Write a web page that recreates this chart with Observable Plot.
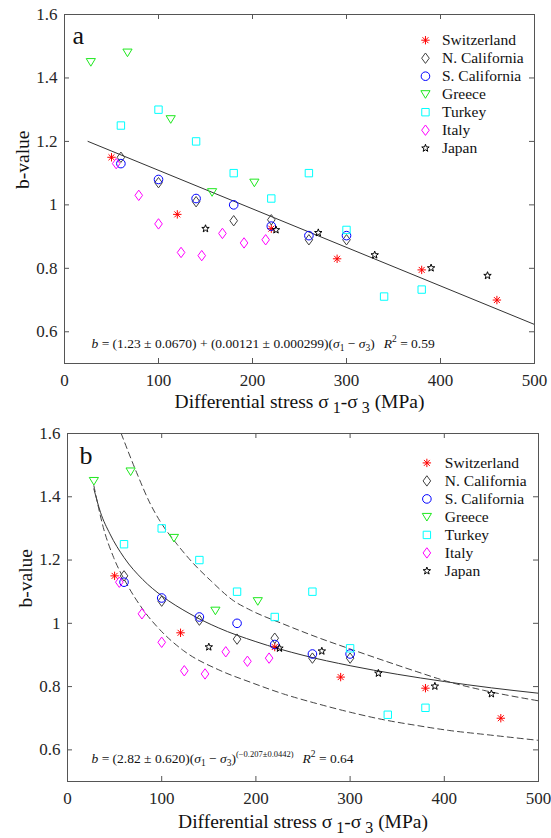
<!DOCTYPE html>
<html><head><meta charset="utf-8">
<script src="https://cdn.jsdelivr.net/npm/d3@7"></script>
<script src="https://cdn.jsdelivr.net/npm/@observablehq/plot@0.6"></script>
<style>
html,body{margin:0;padding:0;background:#fff;}
#chart svg{display:block;}
</style></head><body><div id="chart"></div>
<script>
// ---------- data ----------
const seriesNames = ["Switzerland", "N. California", "S. California", "Greece", "Turkey", "Italy", "Japan"];
const switzerlandX = [50, 120, 220, 290, 380, 460];
const switzerlandB = [1.15, 0.97, 0.925, 0.83, 0.795, 0.70];
const nCalX = [60, 100, 140, 180, 220, 260, 300];
const nCalB = [1.15, 1.07, 1.01, 0.95, 0.953, 0.89, 0.89];
const sCalX = [60, 100, 140, 180, 220, 260, 300];
const sCalB = [1.13, 1.08, 1.02, 1.00, 0.933, 0.903, 0.903];
const greeceX = [28, 67, 113, 157, 202];
const greeceB = [1.45, 1.48, 1.27, 1.04, 1.07];
const turkeyX = [60, 100, 140, 180, 220, 260, 300, 340, 380];
const turkeyB = [1.25, 1.30, 1.20, 1.10, 1.02, 1.10, 0.921, 0.711, 0.733];
const italyX = [55, 79, 100, 124, 146, 168, 191, 214];
const italyB = [1.13, 1.03, 0.94, 0.85, 0.84, 0.91, 0.88, 0.89];
const japanX = [150, 225, 270, 330, 390, 450];
const japanB = [0.925, 0.921, 0.912, 0.842, 0.801, 0.777];

const xTicks = [0, 100, 200, 300, 400, 500];
const yTicks = [0.6, 0.8, 1, 1.2, 1.4, 1.6];

// panel a: linear fit line
const linFitX = [25, 500];
const linFitB = [1.20, 0.623];
// panel b: power-law fit and dashed bounds
const powFitX = [28, 35, 45, 60, 80, 100, 130, 160, 200, 250, 300, 350, 400, 450, 500];
const powFitB = [1.425, 1.351, 1.283, 1.208, 1.138, 1.087, 1.030, 0.986, 0.942, 0.899, 0.866, 0.839, 0.816, 0.796, 0.779];
const upperX = [57, 74, 88, 98, 116, 134, 152, 176, 194, 229, 265, 300, 336, 371, 406, 442, 500];
const upperB = [1.60, 1.472, 1.377, 1.324, 1.251, 1.188, 1.135, 1.072, 1.042, 0.998, 0.956, 0.919, 0.882, 0.847, 0.814, 0.788, 0.755];
const lowerX = [28, 38, 49, 63, 81, 98, 123, 162, 194, 229, 265, 300, 336, 371, 406, 442, 500];
const lowerB = [1.435, 1.303, 1.208, 1.124, 1.040, 0.980, 0.914, 0.851, 0.814, 0.777, 0.746, 0.719, 0.695, 0.677, 0.661, 0.649, 0.630];

// ---------- marker symbols (MATLAB-like) ----------
const symAsterisk = {draw(c) { const a = 4.2, d = a * Math.SQRT1_2;
  c.moveTo(-a, 0); c.lineTo(a, 0); c.moveTo(0, -a); c.lineTo(0, a);
  c.moveTo(-d, -d); c.lineTo(d, d); c.moveTo(-d, d); c.lineTo(d, -d); }};
const symDiamond = {draw(c) { c.moveTo(0, -5.2); c.lineTo(3.8, 0); c.lineTo(0, 5.2); c.lineTo(-3.8, 0); c.closePath(); }};
const symCircle = {draw(c) { c.moveTo(4.3, 0); c.arc(0, 0, 4.3, 0, 2 * Math.PI); c.closePath(); }};
const symTriDown = {draw(c) { c.moveTo(-4.6, -3.5); c.lineTo(4.6, -3.5); c.lineTo(0, 4.1); c.closePath(); }};
const symSquare = {draw(c) { c.rect(-3.7, -3.7, 7.4, 7.4); }};
const symStar = {draw(c) { const R = 3.9, r = 1.6;
  for (let i = 0; i < 10; i++) { const rad = i % 2 ? r : R; const a = -Math.PI / 2 + i * Math.PI / 5;
    const px = rad * Math.cos(a), py = rad * Math.sin(a); if (i) c.lineTo(px, py); else c.moveTo(px, py); }
  c.closePath(); }};

const seriesX = [switzerlandX, nCalX, sCalX, greeceX, turkeyX, italyX, japanX];
const seriesB = [switzerlandB, nCalB, sCalB, greeceB, turkeyB, italyB, japanB];
const seriesColors = ["#ff0000", "#404040", "#0000ff", "#1ee81e", "#00ffff", "#ff00ff", "#000000"];
const seriesSymbols = [symAsterisk, symDiamond, symCircle, symTriDown, symSquare, symDiamond, symStar];

const rows = seriesNames.flatMap((name, k) => seriesX[k].map((x, i) => ({series: name, k, x, b: seriesB[k][i]})));
const toPts = (xs, bs) => xs.map((x, i) => ({x, b: bs[i]}));

const FONT = "'Liberation Serif', 'Times New Roman', serif";
const TITLE_X = "Differential stress σ1-σ3 (MPa)";
const EQ_A = "EQ_A";
const EQ_B = "EQ_B";

function makePanel(cfg) {
  const {height, mt, mr, mb, ml, letter, eq, eqDx, eqDy, titleDy, legX, legTextDx, legY0, curves} = cfg;
  const pxX = 500 / (551 - ml - mr);      // data units per px
  const pxY = 1.1 / (height - mt - mb);
  const tX = 5 * pxX, tY = 5 * pxY;
  const legendRows = seriesNames.map((name, k) => ({name, k, x: legX, tx: legX + legTextDx * pxX, y: legY0 - k * 18 * pxY}));
  const marks = [
    ...curves,
    ...seriesNames.map((name, k) => Plot.dot(rows.filter(r => r.k === k), {
      x: "x", y: "b", symbol: seriesSymbols[k], stroke: seriesColors[k], fill: "none", strokeWidth: 1, r: 4})),
    // legend
    ...seriesNames.map((name, k) => Plot.dot(legendRows.filter(r => r.k === k), {
      x: "x", y: "y", symbol: seriesSymbols[k], stroke: seriesColors[k], fill: "none", strokeWidth: 1, r: 4})),
    Plot.text(legendRows, {x: "tx", y: "y", text: "name", textAnchor: "start", lineAnchor: "middle", fontSize: 15.5, fill: "#111"}),
    // frame & inward ticks
    Plot.frame({stroke: "#555", strokeWidth: 1}),
    Plot.ruleX(xTicks, {y1: 0.5, y2: 0.5 + tY, stroke: "#555"}),
    Plot.ruleX(xTicks, {y1: 1.6, y2: 1.6 - tY, stroke: "#555"}),
    Plot.ruleY(yTicks, {x1: 0, x2: tX, stroke: "#555"}),
    Plot.ruleY(yTicks, {x1: 500, x2: 500 - tX, stroke: "#555"}),
    // texts
    Plot.text([letter], {frameAnchor: "top-left", dx: cfg.letDx, dy: cfg.letDy, fontSize: 26, textAnchor: "start", lineAnchor: "bottom", fill: "#111"}),
    Plot.text([eq], {frameAnchor: "bottom-left", dx: eqDx, dy: eqDy, fontSize: 13.5, textAnchor: "start", lineAnchor: "middle", fill: "#111"}),
    Plot.text([TITLE_X], {frameAnchor: "bottom", dy: titleDy, fontSize: 19.5, lineAnchor: "middle", fill: "#111"}),
    Plot.text(["b-value"], {frameAnchor: "left", dx: -42, rotate: -90, fontSize: 19.5, lineAnchor: "middle", fill: "#111"})
  ];
  return Plot.plot({
    width: 551, height,
    marginTop: mt, marginRight: mr, marginBottom: mb, marginLeft: ml,
    style: {fontFamily: FONT, fontSize: "17px", color: "#262626", background: "#fff", overflow: "visible"},
    x: {domain: [0, 500], ticks: xTicks, tickSize: 0, tickPadding: 10, label: null},
    y: {domain: [0.5, 1.6], ticks: yTicks, tickSize: 0, tickPadding: 7, label: null, tickFormat: d => String(+d.toFixed(1))},
    marks
  });
}

const curvesA = [
  Plot.line(toPts(linFitX, linFitB), {x: "x", y: "b", stroke: "#333", strokeWidth: 1})
];
const curvesB = [
  Plot.line(toPts(powFitX, powFitB), {x: "x", y: "b", stroke: "#333", strokeWidth: 1, curve: "monotone-x", clip: true}),
  Plot.line(toPts(upperX, upperB), {x: "x", y: "b", stroke: "#444", strokeWidth: 1, strokeDasharray: "6,4", curve: "monotone-x", clip: true}),
  Plot.line(toPts(lowerX, lowerB), {x: "x", y: "b", stroke: "#444", strokeWidth: 1, strokeDasharray: "6,4", curve: "monotone-x", clip: true})
];

const svgA = makePanel({height: 420, mt: 14, mr: 17, mb: 57, ml: 64, letter: "a", letDx: 8, letDy: 29,
  eq: EQ_A, eqDx: 27, eqDy: -20, titleDy: 38,
  legX: 384, legTextDx: 16.5, legY0: 1.519, curves: curvesA});
const svgB = makePanel({height: 418, mt: 13, mr: 13, mb: 57, ml: 67, letter: "b", letDx: 12, letDy: 30,
  eq: EQ_B, eqDx: 24, eqDy: -23, titleDy: 40,
  legX: 381.5, legTextDx: 18, legY0: 1.507, curves: curvesB});

const chart = document.getElementById("chart");
chart.appendChild(svgA);
chart.appendChild(svgB);

// ---------- rich text: segments with italic / baseline shift ----------
// each segment: [text, {i: italic, s: shift(px, + down), fs: font size, dx}]
function segHtml(segs) {
  let cur = 0, out = "";
  for (const [t, o = {}] of segs) {
    const target = o.s || 0, dy = target - cur; cur = target;
    const attrs = [];
    if (dy) attrs.push(`dy="${dy}"`);
    if (o.dx) attrs.push(`dx="${o.dx}"`);
    if (o.i) attrs.push(`font-style="italic"`);
    if (o.fs) attrs.push(`font-size="${o.fs}"`);
    out += `<tspan ${attrs.join(" ")}>${t}</tspan>`;
  }
  return out;
}
const I = {i: true}, SUB = {s: 3, fs: 9.5}, SUP = {s: -6, fs: 9.5};
const eqAhtml = segHtml([
  ["b", I], [" = (1.23 ± 0.0670) + (0.00121 ± 0.000299)("], ["σ", I], ["1", SUB], [" − "], ["σ", I], ["3", SUB], [")"],
  ["R", {i: true, dx: 9}], ["2", SUP], [" = 0.59"]
]);
const eqBhtml = segHtml([
  ["b", I], [" = (2.82 ± 0.620)("], ["σ", I], ["1", SUB], [" − "], ["σ", I], ["3", SUB], [")"],
  ["(−0.207±0.0442)", {s: -6, fs: 8.5}], ["R", {i: true, dx: 9}], ["2", SUP], [" = 0.64"]
]);
const titleHtml = segHtml([
  ["Differential stress σ"], ["\u00a01", {s: 5, fs: 16}], ["-σ"], ["\u00a03", {s: 5, fs: 16}], [" (MPa)"]
]);

function rich(svg, marker, html) {
  d3.select(svg).selectAll("text").filter(function() { return this.textContent === marker; }).html(html);
}
for (const s of [svgA, svgB]) rich(s, TITLE_X, titleHtml);
rich(svgA, EQ_A, eqAhtml);
rich(svgB, EQ_B, eqBhtml);
</script></body></html>
